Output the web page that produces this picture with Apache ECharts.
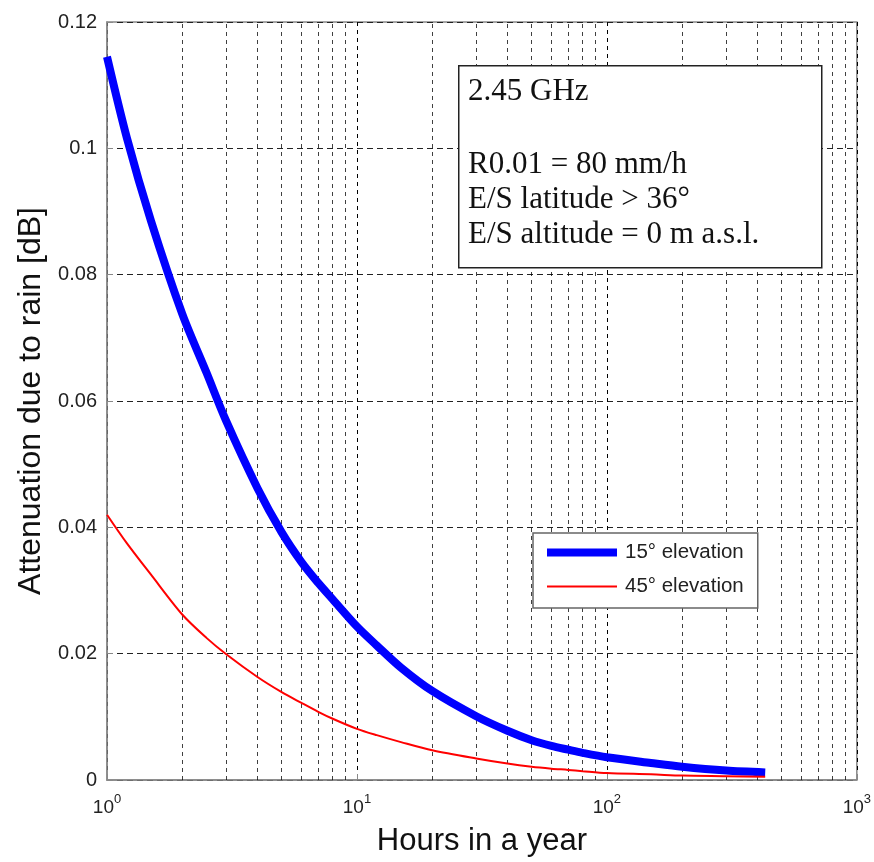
<!DOCTYPE html>
<html>
<head>
<meta charset="utf-8">
<script src="https://cdn.jsdelivr.net/npm/echarts@6/dist/echarts.min.js"></script>
<style>
  html, body { margin: 0; padding: 0; background: #fff; }
  #chart { width: 874px; height: 862px; }
</style>
</head>
<body>
<div id="chart"></div>
<script>
// hours in a year (x) and rain attenuation in dB (y)
var hours = [1, 1.2, 1.5, 2, 2.5, 3, 4, 5, 6, 7, 8, 10, 12, 15, 20, 30, 40, 50, 60, 70, 80, 100, 150, 200, 300, 430];
var att15 = [0.1145, 0.1017, 0.0885, 0.0738, 0.0645, 0.0568, 0.0462, 0.0392, 0.0345, 0.0312, 0.0286, 0.0243, 0.0213, 0.0178, 0.0141, 0.0101, 0.0078, 0.0063, 0.0054, 0.0048, 0.0043, 0.0036, 0.0027, 0.0021, 0.0015, 0.0012];
var att45 = [0.042, 0.0375, 0.0325, 0.0262, 0.0225, 0.0199, 0.0163, 0.0139, 0.0122, 0.0108, 0.0097, 0.0081, 0.0071, 0.006, 0.0047, 0.0034, 0.0026, 0.0021, 0.0018, 0.0016, 0.0014, 0.0011, 0.0009, 0.0007, 0.0006, 0.0005];
var minorX = [2, 3, 4, 5, 6, 7, 8, 9, 20, 30, 40, 50, 60, 70, 80, 90, 200, 300, 400, 500, 600, 700, 800, 900];
var infoLines = ['2.45 GHz', 'R0.01 = 80 mm/h', 'E/S latitude > 36°', 'E/S altitude = 0 m a.s.l.'];

function pairs(xs, ys) {
    return xs.map(function (x, i) { return [x, ys[i]]; });
}

var chart = echarts.init(document.getElementById('chart'));
var gridDash = { color: '#000', width: 1, type: [4, 4] };

chart.setOption({
    animation: false,
    grid: {
        left: 107, right: 17, top: 22, bottom: 81,
        show: true, borderColor: '#888', borderWidth: 1.5
    },
    legend: {
        left: 533, top: 533, orient: 'vertical', z: 20,
        itemWidth: 70, itemHeight: 10, itemGap: 13,
        padding: [9, 14, 11, 14],
        borderColor: '#666', borderWidth: 1.5, backgroundColor: '#fff',
        textStyle: { fontFamily: 'Liberation Sans', fontSize: 20.5, color: '#222', padding: [0, 0, 0, 3] },
        data: [
            { name: '15° elevation', icon: 'path://M0,0H70V8H0Z' },
            { name: '45° elevation', icon: 'path://M0,0H70V2H0Z' }
        ]
    },
    xAxis: {
        type: 'log', logBase: 10, min: 1, max: 1000,
        name: 'Hours in a year', nameLocation: 'middle', nameGap: 46,
        nameTextStyle: { fontFamily: 'Liberation Sans', fontSize: 31, color: '#111' },
        axisLine: { lineStyle: { color: '#888', width: 1.5 } },
        axisTick: { inside: true, length: 6, lineStyle: { color: '#888' } },
        splitLine: { show: true, lineStyle: gridDash },
        axisLabel: {
            margin: 13,
            formatter: function (v) {
                return '{b|10}{s|' + Math.round(Math.log10(v)) + '}';
            },
            rich: {
                b: { fontFamily: 'Liberation Sans', fontSize: 19, color: '#222' },
                s: { fontFamily: 'Liberation Sans', fontSize: 13, color: '#222', padding: [0, 0, 16, 0] }
            }
        }
    },
    yAxis: {
        type: 'value', min: 0, max: 0.12, interval: 0.02,
        name: 'Attenuation due to rain [dB]', nameLocation: 'middle', nameGap: 60,
        nameTextStyle: { fontFamily: 'Liberation Sans', fontSize: 32, color: '#111' },
        axisLine: { show: true, lineStyle: { color: '#888', width: 1.5 } },
        axisTick: { show: true, inside: true, length: 6, lineStyle: { color: '#888' } },
        splitLine: { show: true, lineStyle: { color: '#222', width: 1, type: [6, 4] } },
        axisLabel: {
            margin: 10,
            fontFamily: 'Liberation Sans', fontSize: 20, color: '#222',
            formatter: function (v) { return v === 0 ? '0' : String(+v.toFixed(2)); }
        }
    },
    graphic: [
        {
            type: 'rect', left: 458, top: 65, z: 10,
            shape: { width: 363, height: 202 },
            style: { fill: '#fff', stroke: '#222', lineWidth: 1.5 }
        },
        {
            type: 'text', left: 468, top: 76, z: 11,
            style: { text: infoLines[0], font: '31px "Liberation Serif"', fill: '#111' }
        },
        {
            type: 'text', left: 468, top: 147, z: 11,
            style: { text: infoLines.slice(1).join('\n'), font: '31px "Liberation Serif"', lineHeight: 35, fill: '#111' }
        }
    ],
    series: [
        {
            name: 'minor grid', type: 'line', data: [], silent: true, z: 1,
            markLine: {
                silent: true, symbol: 'none', label: { show: false },
                lineStyle: { color: '#000', width: 1, type: [4, 4], opacity: 0.75 },
                data: minorX.map(function (v) { return { xAxis: v }; })
            }
        },
        {
            name: '15° elevation', type: 'line', symbol: 'none', z: 5,
            smooth: 0.3,
            lineStyle: { color: '#0000ff', width: 8 },
            itemStyle: { color: '#0000ff' },
            data: pairs(hours, att15)
        },
        {
            name: '45° elevation', type: 'line', symbol: 'none', z: 6,
            smooth: 0.3,
            lineStyle: { color: '#ff0000', width: 2 },
            itemStyle: { color: '#ff0000' },
            data: pairs(hours, att45)
        }
    ]
});
</script>
</body>
</html>
